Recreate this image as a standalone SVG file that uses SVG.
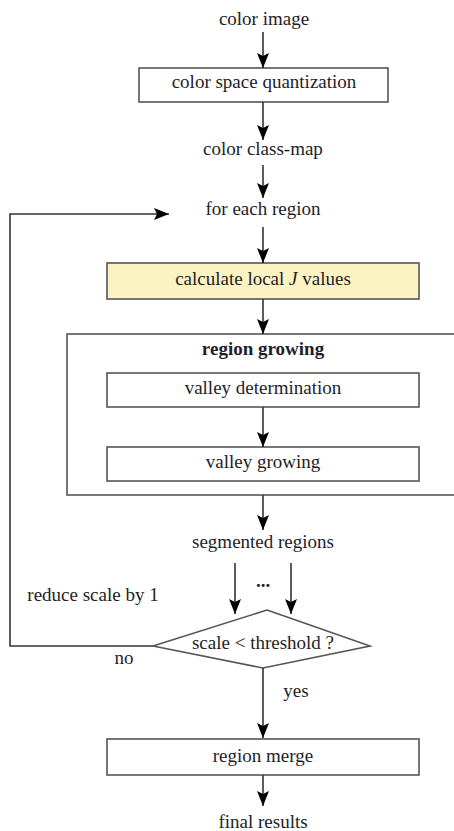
<svg xmlns="http://www.w3.org/2000/svg" width="454" height="831" viewBox="0 0 454 831" font-family="'Liberation Serif', 'Times New Roman', Times, serif">
<style>
text{font-family:'Liberation Serif','Times New Roman',Times,serif;font-size:19px;fill:#1e1e28;text-anchor:middle}
.box{fill:#fff;stroke:#555;stroke-width:1.6}
.line{fill:none;stroke:#333;stroke-width:1.6}
</style>
<defs>
<marker id="ah" markerWidth="16" markerHeight="12" refX="15" refY="6" orient="auto" markerUnits="userSpaceOnUse">
<path d="M0,0 L15,6 L0,12 L3,6 Z" fill="#000"/>
</marker>
</defs>
<rect width="454" height="831" fill="#fff"/>
<g id="region-growing">
<rect class="box" x="67" y="334" width="400" height="161"/>
<text x="263" y="355" font-weight="bold">region growing</text>
</g>
<g id="color-image"><text x="264" y="25">color image</text></g>
<g id="quantization">
<rect class="box" x="139" y="68" width="249" height="34"/>
<text x="264" y="88">color space quantization</text>
</g>
<g id="class-map"><text x="263" y="155">color class-map</text></g>
<g id="for-each"><text x="263" y="215">for each region</text></g>
<g id="local-j">
<rect class="box" x="107" y="263" width="312" height="36" style="fill:#fcf3c3"/>
<text x="263" y="285">calculate local <tspan font-style="italic">J</tspan> values</text>
</g>
<g id="valley-determination">
<rect class="box" x="107" y="373" width="312" height="34"/>
<text x="263" y="394">valley determination</text>
</g>
<g id="valley-growing">
<rect class="box" x="107" y="447" width="312" height="34"/>
<text x="263" y="468">valley growing</text>
</g>
<g id="segmented"><text x="263" y="548">segmented regions</text></g>
<g id="dots"><text x="263" y="587" font-weight="bold">...</text></g>
<g id="reduce"><text x="93" y="601">reduce scale by 1</text></g>
<g id="decision">
<polygon class="box" points="267,610 370,646 263,668 153,646"/>
<text x="263" y="649">scale &lt; threshold ?</text>
</g>
<g id="no-label"><text x="124" y="664">no</text></g>
<g id="yes-label"><text x="296" y="697">yes</text></g>
<g id="merge">
<rect class="box" x="107" y="739" width="312" height="36"/>
<text x="263" y="762">region merge</text>
</g>
<g id="final"><text x="263" y="828">final results</text></g>
<g id="connectors">
<line class="line" x1="263" y1="32" x2="263" y2="68" marker-end="url(#ah)"/>
<line class="line" x1="263" y1="102" x2="263" y2="140" marker-end="url(#ah)"/>
<line class="line" x1="263" y1="165" x2="263" y2="198" marker-end="url(#ah)"/>
<line class="line" x1="263" y1="227" x2="263" y2="263" marker-end="url(#ah)"/>
<line class="line" x1="263" y1="299" x2="263" y2="334" marker-end="url(#ah)"/>
<line class="line" x1="263" y1="407" x2="263" y2="447" marker-end="url(#ah)"/>
<line class="line" x1="263" y1="495" x2="263" y2="530" marker-end="url(#ah)"/>
<line class="line" x1="235" y1="563" x2="235" y2="614" marker-end="url(#ah)"/>
<line class="line" x1="291" y1="563" x2="291" y2="614" marker-end="url(#ah)"/>
<line class="line" x1="263" y1="668" x2="263" y2="738" marker-end="url(#ah)"/>
<line class="line" x1="263" y1="775" x2="263" y2="806" marker-end="url(#ah)"/>
<polyline class="line" points="153,646 10,646 10,214 169,214" marker-end="url(#ah)"/>
</g>
</svg>
